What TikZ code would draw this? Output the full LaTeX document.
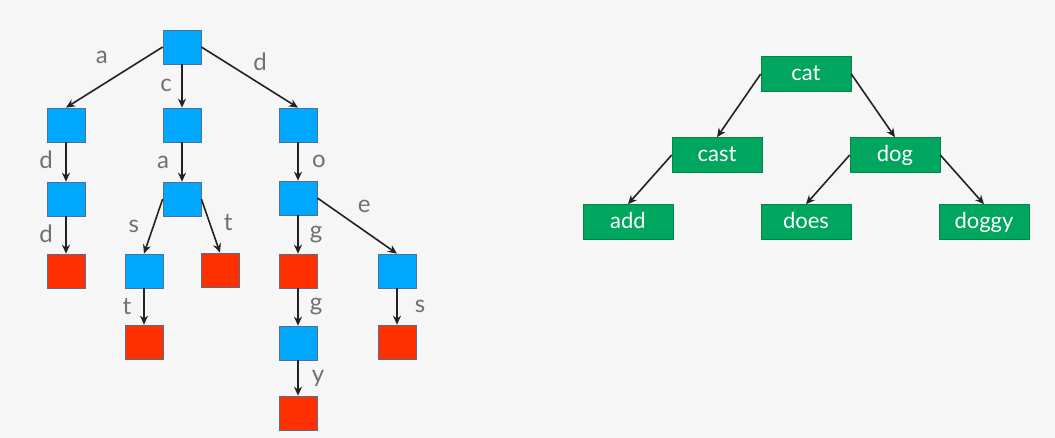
\documentclass[tikz,border=0pt]{standalone}
\usepackage{fontspec}
\setmainfont{Lato}
\usetikzlibrary{arrows.meta}

\definecolor{paper}{RGB}{246,246,246}
\definecolor{trieblue}{RGB}{0,168,255}
\definecolor{triered}{RGB}{255,48,0}
\definecolor{boxedge}{RGB}{85,110,150}
\definecolor{wordgreen}{RGB}{0,166,94}
\definecolor{lblgray}{RGB}{112,112,112}
\definecolor{linkblack}{RGB}{34,34,34}

\begin{document}
\begin{tikzpicture}[x=1pt, y=-1pt, ->, >={Stealth[length=9pt, width=8pt]},
        every edge/.style={draw=linkblack, line width=1.6pt},
        inner/.style={draw=boxedge, line width=0.7pt, fill=trieblue,
            minimum width=38pt, minimum height=34pt, inner sep=0pt},
        leaf/.style={inner, fill=triered},
        word/.style={draw=wordgreen!80!black, line width=0.6pt, fill=wordgreen,
            text=white, minimum width=90pt, minimum height=35pt, inner sep=0pt,
            text height=14pt, text depth=1pt, font=\fontsize{22}{25}\selectfont},
        lbl/.style={text=lblgray, inner sep=0pt, font=\fontsize{24}{28}\selectfont}]

        % --- Background ---
        \fill[paper] (0,0) rectangle (1055,438);

        % --- Trie ---
        \node[inner] (t)      at (182,47)  {};
        \node[inner] (ta)     at (66,125)  {};
        \node[inner] (tad)    at (66,199)  {};
        \node[leaf]  (tadd)   at (66,271)  {};
        \node[inner] (tc)     at (182,125) {};
        \node[inner] (tca)    at (182,199) {};
        \node[inner] (tcas)   at (144,271) {};
        \node[leaf]  (tcast)  at (144,342) {};
        \node[leaf]  (tcat)   at (220,270) {};
        \node[inner] (td)     at (298,125) {};
        \node[inner] (tdo)    at (298,198) {};
        \node[leaf]  (tdog)   at (298,271) {};
        \node[inner] (tdogg)  at (298,343) {};
        \node[leaf]  (tdoggy) at (298,413) {};
        \node[inner] (tdoe)   at (397,271) {};
        \node[leaf]  (tdoes)  at (397,342) {};

        % --- Trie edges ---
        \path (t.west)    edge node[lbl, xshift=-12.5pt, yshift=19.5pt] {a} (ta.north)
              (t.south)   edge node[lbl, xshift=-16pt, yshift=1pt]      {c} (tc.north)
              (t.east)    edge node[lbl, xshift=10.5pt, yshift=15.5pt]  {d} (td.north)
              (ta.south)  edge node[lbl, xshift=-20pt, yshift=2pt]      {d} (tad.north)
              (tad.south) edge node[lbl, xshift=-20pt, yshift=1.5pt]    {d} (tadd.north)
              (tc.south)  edge node[lbl, xshift=-19pt]                  {a} (tca.north)
              (tca.west)  edge node[lbl, xshift=-19.5pt]                {s} (tcas.north)
              (tcas.south) edge node[lbl, xshift=-17pt]                 {t} (tcast.north)
              (tca.east)  edge node[lbl, xshift=17.5pt, yshift=3pt]     {t} (tcat.north)
              (td.south)  edge node[lbl, xshift=21pt]                   {o} (tdo.north)
              (tdo.south) edge node[lbl, xshift=18pt]                   {g} (tdog.north)
              (tdog.south) edge node[lbl, xshift=18pt]                  {g} (tdogg.north)
              (tdogg.south) edge node[lbl, xshift=20pt]                 {y} (tdoggy.north)
              (tdo.east)  edge node[lbl, xshift=7pt, yshift=19pt]       {e} (tdoe.north)
              (tdoe.south) edge node[lbl, xshift=23pt]                  {s} (tdoes.north);

        % --- Word tree ---
        \node[word] (cat)   at (806,74)  {cat};
        \node[word] (cast)  at (717,155) {cast};
        \node[word] (dog)   at (895,155) {dog};
        \node[word] (add)   at (628,222) {add};
        \node[word] (does)  at (806,222) {does};
        \node[word] (doggy) at (984,222) {doggy};

        \path (cat.west)  edge (cast.north)
              (cat.east)  edge (dog.north)
              (cast.west) edge (add.north)
              (dog.west)  edge (does.north)
              (dog.east)  edge (doggy.north);

    \end{tikzpicture}
\end{document}
